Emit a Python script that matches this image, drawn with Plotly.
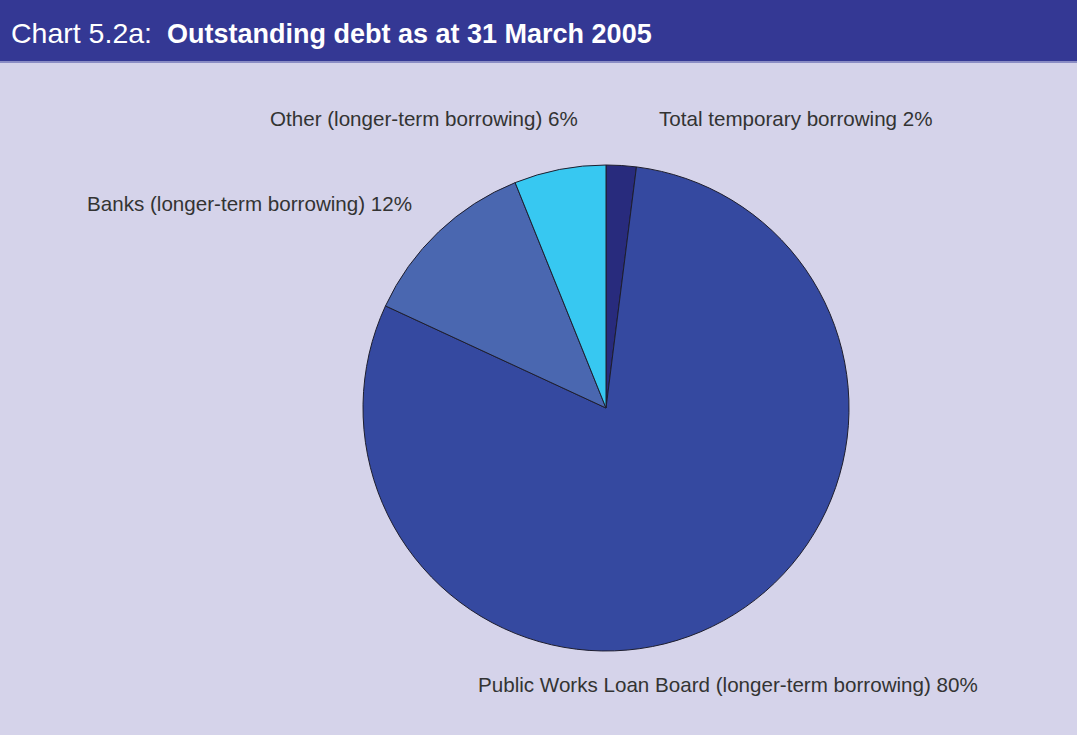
import plotly.graph_objects as go

W, H = 1077, 735

categories = [
    "Total temporary borrowing",
    "Public Works Loan Board (longer-term borrowing)",
    "Banks (longer-term borrowing)",
    "Other (longer-term borrowing)",
]
values = [2.0, 79.9, 12.0, 6.1]
pct_labels = ["2%", "80%", "12%", "6%"]
colors = ["#282b7d", "#3549a0", "#4a67b0", "#37c8f1"]

# label anchor positions in pixels (layout only)
label_pos = [
    (657, 118, "left"),
    (476, 684, "left"),
    (414, 203, "right"),
    (580, 118, "right"),
]

cx, cy, r = 606, 408, 243

fig = go.Figure(go.Pie(
    labels=categories,
    values=values,
    sort=False,
    direction="clockwise",
    rotation=0,
    marker=dict(colors=colors, line=dict(color="#1e1e2e", width=1)),
    textinfo="none",
    hoverinfo="label+percent",
    showlegend=False,
    domain=dict(x=[(cx - r) / W, (cx + r) / W], y=[(H - cy - r) / H, (H - cy + r) / H]),
))

annotations = []
for cat, pl, (x, y, anc) in zip(categories, pct_labels, label_pos):
    annotations.append(dict(
        x=x / W, y=1 - y / H, xref="paper", yref="paper",
        text=f"{cat} {pl}", showarrow=False,
        xanchor=anc, yanchor="middle",
        font=dict(family="Liberation Sans, Arial, sans-serif", size=20.6, color="#333333"),
    ))

annotations.append(dict(
    x=9 / W, y=1 - 33 / H, xref="paper", yref="paper",
    text="<span style='font-size:28.5px'>Chart 5.2a:</span>  <b>Outstanding debt as at 31 March 2005</b>",
    showarrow=False, xanchor="left", yanchor="middle",
    font=dict(family="Liberation Sans, Arial, sans-serif", size=27, color="white"),
))

shapes = [
    dict(type="rect", xref="paper", yref="paper", x0=0, x1=1, y0=1 - 62 / H, y1=1,
         fillcolor="#343894", line=dict(width=0), layer="below"),
    dict(type="line", xref="paper", yref="paper", x0=0, x1=1, y0=1 - 62 / H, y1=1 - 62 / H,
         line=dict(color="#8a8cc4", width=2)),
]

fig.update_layout(
    width=W, height=H,
    margin=dict(l=0, r=0, t=0, b=0),
    paper_bgcolor="#d5d3ea",
    plot_bgcolor="#d5d3ea",
    annotations=annotations,
    shapes=shapes,
)

fig.write_html("out.html")
